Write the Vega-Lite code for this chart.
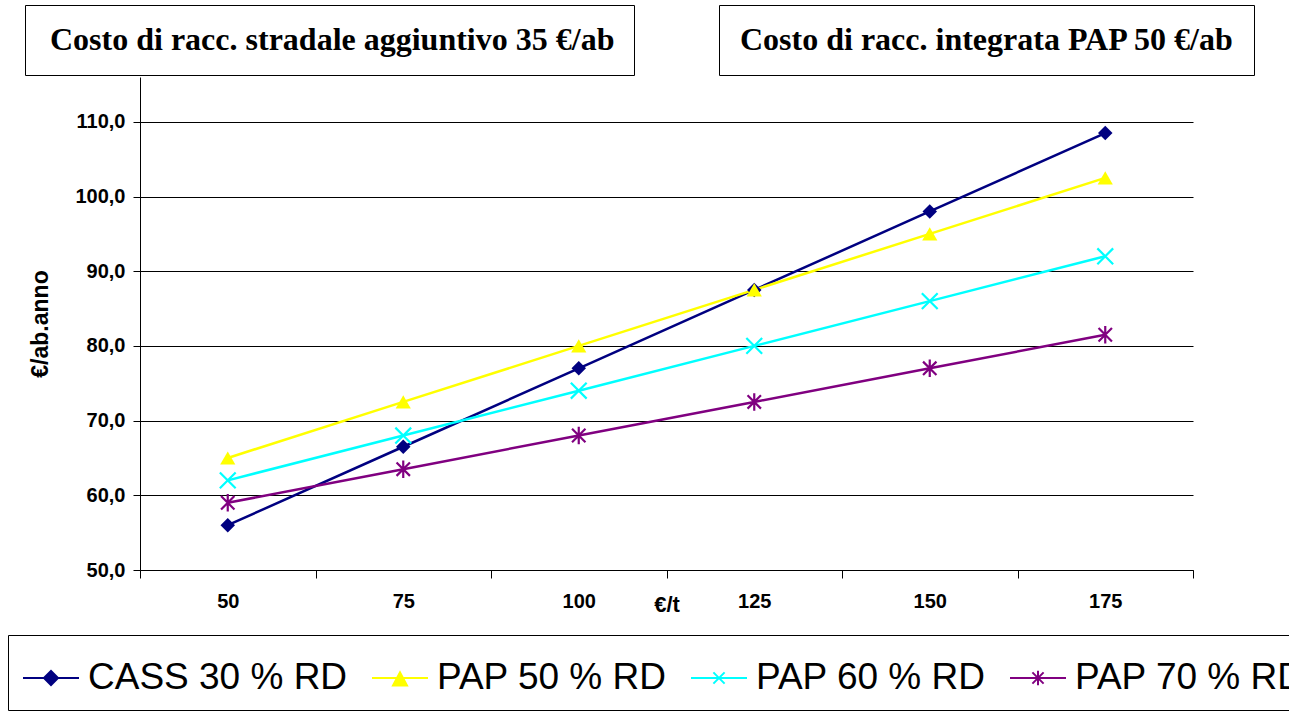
{
  "$schema": "https://vega.github.io/schema/vega-lite/v6.json",
  "background": "white",
  "autosize": {"type": "none"},
  "padding": {"left": 140, "top": 77, "right": 96, "bottom": 142},
  "width": 1053,
  "height": 493,
  "config": {"view": {"stroke": null}, "font": "Liberation Sans"},
  "data": {
    "values": [
      {"t": 50, "serie": "CASS 30 % RD", "v": 56.0},
      {"t": 75, "serie": "CASS 30 % RD", "v": 66.5},
      {"t": 100, "serie": "CASS 30 % RD", "v": 77.0},
      {"t": 125, "serie": "CASS 30 % RD", "v": 87.5},
      {"t": 150, "serie": "CASS 30 % RD", "v": 98.0},
      {"t": 175, "serie": "CASS 30 % RD", "v": 108.5},
      {"t": 50, "serie": "PAP 50 % RD", "v": 65.0},
      {"t": 75, "serie": "PAP 50 % RD", "v": 72.5},
      {"t": 100, "serie": "PAP 50 % RD", "v": 80.0},
      {"t": 125, "serie": "PAP 50 % RD", "v": 87.5},
      {"t": 150, "serie": "PAP 50 % RD", "v": 95.0},
      {"t": 175, "serie": "PAP 50 % RD", "v": 102.5},
      {"t": 50, "serie": "PAP 60 % RD", "v": 62.0},
      {"t": 75, "serie": "PAP 60 % RD", "v": 68.0},
      {"t": 100, "serie": "PAP 60 % RD", "v": 74.0},
      {"t": 125, "serie": "PAP 60 % RD", "v": 80.0},
      {"t": 150, "serie": "PAP 60 % RD", "v": 86.0},
      {"t": 175, "serie": "PAP 60 % RD", "v": 92.0},
      {"t": 50, "serie": "PAP 70 % RD", "v": 59.0},
      {"t": 75, "serie": "PAP 70 % RD", "v": 63.5},
      {"t": 100, "serie": "PAP 70 % RD", "v": 68.0},
      {"t": 125, "serie": "PAP 70 % RD", "v": 72.5},
      {"t": 150, "serie": "PAP 70 % RD", "v": 77.0},
      {"t": 175, "serie": "PAP 70 % RD", "v": 81.5}
    ]
  },
  "encoding": {
    "x": {
      "field": "t",
      "type": "ordinal",
      "scale": {"type": "band", "paddingInner": 0, "paddingOuter": 0},
      "axis": {
        "title": "€/t",
        "labelAngle": 0,
        "tickBand": "extent",
        "tickSize": 8,
        "tickColor": "black",
        "domainColor": "black",
        "labelFontSize": 20,
        "labelFontWeight": "bold",
        "labelColor": "black",
        "labelPadding": 13,
        "titleFontSize": 22,
        "titleFontWeight": "bold",
        "titleColor": "black",
        "titleY": 24,
        "titleBaseline": "top",
        "grid": false
      }
    },
    "y": {
      "field": "v",
      "type": "quantitative",
      "scale": {"domain": [50, 116], "nice": false, "zero": false},
      "axis": {
        "title": "€/ab.anno",
        "values": [50, 60, 70, 80, 90, 100, 110],
        "labelExpr": "replace(format(datum.value, '.1f'), '.', ',')",
        "grid": true,
        "gridColor": "black",
        "gridOpacity": 1,
        "gridWidth": 1,
        "tickSize": 7,
        "tickColor": "black",
        "domainColor": "black",
        "labelFontSize": 20,
        "labelFontWeight": "bold",
        "labelColor": "black",
        "labelPadding": 8,
        "titleFontSize": 23,
        "titleFontWeight": "bold",
        "titleColor": "black",
        "titlePadding": 22
      }
    }
  },
  "resolve": {"scale": {"strokeDash": "independent"}, "legend": {"strokeDash": "independent"}},
  "layer": [
    {
      "mark": {"type": "line", "strokeWidth": 2.5},
      "encoding": {
        "color": {
          "field": "serie",
          "type": "nominal",
          "scale": {
            "domain": ["CASS 30 % RD", "PAP 50 % RD", "PAP 60 % RD", "PAP 70 % RD"],
            "range": ["#000080", "#FFFF00", "#00FFFF", "#800080"]
          },
          "legend": {
            "title": null,
            "orient": "none",
            "legendX": -132,
            "legendY": 558,
            "direction": "horizontal",
            "columns": 4,
            "padding": 14,
            "strokeColor": "black",
            "fillColor": "white",
            "symbolSize": 3136,
            "symbolStrokeWidth": 2,
            "labelFontSize": 37,
            "labelFont": "Liberation Sans",
            "labelColor": "black",
            "labelLimit": 0,
            "labelOffset": 8,
            "columnPadding": 20,
            "encode": {
              "symbols": {
                "update": {
                  "shape": {"signal": "datum.value === 'CASS 30 % RD' ? 'M-1,0L1,0M-0.25,0L0,-0.25L0.25,0L0,0.25Z' : datum.value === 'PAP 50 % RD' ? 'M-1,0L1,0M-0.25,0.27L0,-0.2L0.25,0.27Z' : datum.value === 'PAP 60 % RD' ? 'M-1,0L1,0M-0.2,-0.2L0.2,0.2M-0.2,0.2L0.2,-0.2' : 'M-1,0L1,0M-0.2,-0.2L0.2,0.2M-0.2,0.2L0.2,-0.2M0,-0.26L0,0.26'"},
                  "fill": {"signal": "datum.value === 'CASS 30 % RD' ? '#000080' : datum.value === 'PAP 50 % RD' ? '#FFFF00' : 'transparent'"},
                  "strokeWidth": {"value": 2}
                }
              }
            }
          }
        },
        "strokeDash": {
          "field": "titolo1",
          "type": "nominal",
          "scale": {"domain": ["Costo di racc. stradale aggiuntivo 35 €/ab"], "range": [[1, 0]]},
          "legend": {
            "title": null,
            "orient": "none",
            "legendX": -115,
            "legendY": -72,
            "padding": 19,
            "strokeColor": "black",
            "fillColor": "white",
            "symbolSize": 0,
            "symbolOpacity": 0,
            "labelOffset": -26,
            "labelFont": "Liberation Serif",
            "labelFontWeight": "bold",
            "labelFontSize": 32,
            "labelColor": "black",
            "labelLimit": 0
          }
        }
      }
    },
    {
      "mark": {"type": "line", "strokeWidth": 0},
      "encoding": {
        "strokeDash": {
          "field": "titolo2",
          "type": "nominal",
          "scale": {"domain": ["Costo di racc. integrata PAP 50 €/ab"], "range": [[1, 0]]},
          "legend": {
            "title": null,
            "orient": "none",
            "legendX": 579,
            "legendY": -72,
            "padding": 19,
            "strokeColor": "black",
            "fillColor": "white",
            "symbolSize": 0,
            "symbolOpacity": 0,
            "labelOffset": -30,
            "labelFont": "Liberation Serif",
            "labelFontWeight": "bold",
            "labelFontSize": 32,
            "labelColor": "black",
            "labelLimit": 0
          }
        }
      }
    },
    {
      "transform": [{"filter": "datum.serie === 'CASS 30 % RD'"}],
      "mark": {"type": "point", "shape": "diamond", "filled": true, "color": "#000080", "size": 210, "opacity": 1}
    },
    {
      "transform": [{"filter": "datum.serie === 'PAP 50 % RD'"}],
      "mark": {"type": "point", "shape": "triangle-up", "filled": true, "color": "#FFFF00", "size": 230, "opacity": 1}
    },
    {
      "transform": [{"filter": "datum.serie === 'PAP 60 % RD'"}],
      "mark": {"type": "point", "shape": "M-1,-1L1,1M-1,1L1,-1", "filled": false, "color": "#00FFFF", "strokeWidth": 2.2, "size": 250, "opacity": 1}
    },
    {
      "transform": [{"filter": "datum.serie === 'PAP 70 % RD'"}],
      "mark": {"type": "point", "shape": "M-1,-1L1,1M-1,1L1,-1M0,-1.3L0,1.3", "filled": false, "color": "#800080", "strokeWidth": 2.2, "size": 180, "opacity": 1}
    }
  ]
}
